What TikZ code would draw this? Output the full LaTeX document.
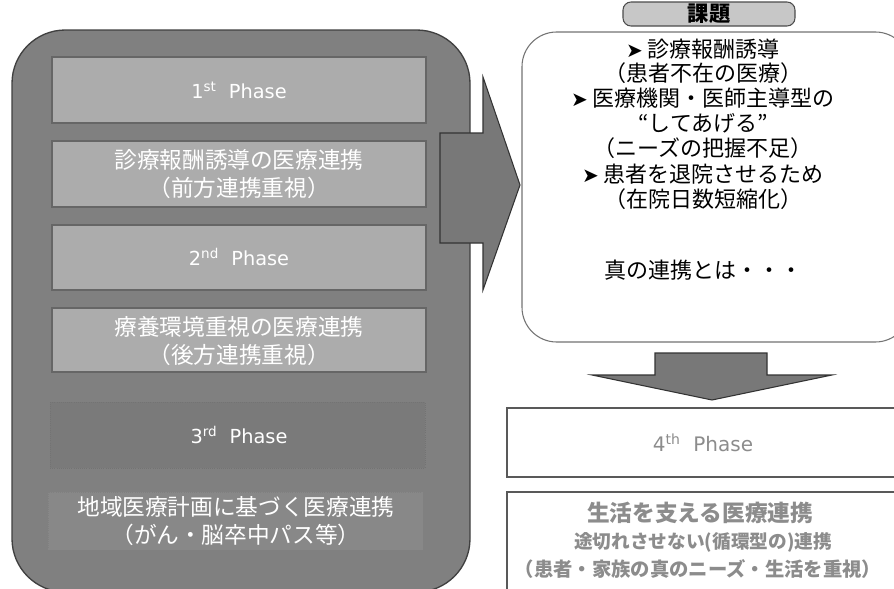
\documentclass[tikz,border=0pt]{standalone}
\usepackage{fontspec}
\setmainfont{Noto Sans CJK JP}
\newfontfamily\latinfont{DejaVu Sans}
\definecolor{outerg}{RGB}{128,128,128}
\definecolor{lightg}{RGB}{172,172,172}
\definecolor{darkg}{RGB}{122,122,122}
\definecolor{midg}{RGB}{136,136,136}
\definecolor{arrowg}{RGB}{120,120,120}
\definecolor{txtg}{RGB}{140,140,140}
\tikzset{
  outerbox/.style={draw=black!75, line width=1pt, fill=outerg, rounded corners=40pt},
  lightbox/.style={draw=black!60, line width=0.8pt, fill=lightg},
  darkbox/.style={draw=black!55, line width=0.6pt, densely dotted, fill=darkg},
  midbox/.style={draw=black!50, line width=0.6pt, densely dotted, fill=midg},
  wtext/.style={text=white, align=center, font=\fontsize{17}{20.5}\selectfont, inner sep=0pt},
  phasetext/.style={text=white, font=\latinfont\fontsize{14.5}{17}\selectfont, inner sep=0pt},
  blockarrow/.style={draw=black!80, line width=0.8pt, fill=arrowg},
  issuebox/.style={draw=black!55, line width=0.8pt, fill=white, rounded corners=26pt},
  tabbox/.style={draw=black!70, line width=0.8pt, fill=black!22, rounded corners=6pt},
  btext/.style={text=black, inner sep=0pt, font=\fontsize{16.5}{19}\selectfont},
  plainbox/.style={draw=black!65, line width=0.9pt, fill=white},
  gtext/.style={text=txtg, inner sep=0pt, font=\bfseries\fontsize{16}{19}\selectfont},
}
\begin{document}
\begin{tikzpicture}[x=0.75pt,y=-0.75pt]
\useasboundingbox (0,0) rectangle (894,589);
\clip (0,0) rectangle (894,589);

% left panel
\draw[outerbox] (12,30) rectangle (470,592);
\draw[lightbox] (52,57) rectangle (426,123);
\node[phasetext] (p1) at (239,90) {1\textsuperscript{st}\ \ Phase};
\draw[lightbox] (52,141) rectangle (426,207);
\node[wtext] (t1) at (239,174) {診療報酬誘導の医療連携\\（前方連携重視）};
\draw[lightbox] (52,225) rectangle (426,290);
\node[phasetext] (p2) at (239,257) {2\textsuperscript{nd}\ \ Phase};
\draw[lightbox] (52,308) rectangle (426,372);
\node[wtext] (t2) at (239,341) {療養環境重視の医療連携\\（後方連携重視）};
\draw[darkbox] (50,402) rectangle (425,468);
\node[phasetext] (p3) at (239,435) {3\textsuperscript{rd}\ \ Phase};
\draw[midbox] (48,492) rectangle (423,550);
\node[wtext] (t3) at (236,521) {地域医療計画に基づく医療連携\\（がん・脳卒中パス等）};

% right arrow
\draw[blockarrow] (440,133) -- (483,133) -- (483,77) -- (520,185) -- (483,290) -- (483,243) -- (440,243) -- cycle;

% issue box
\draw[issuebox] (522,32) rectangle (910,342);
\draw[tabbox] (623,2) rectangle (795,26);
\node[inner sep=0pt, font=\bfseries\fontsize{16}{18}\selectfont] (tab) at (709,14) {課題};
\node[btext] (i1) at (703,49) {{\latinfont\fontsize{15}{18}\selectfont ➤} 診療報酬誘導};
\node[btext] (i2) at (703,73) {（患者不在の医療）};
\node[btext] (i3) at (703,98) {{\latinfont\fontsize{15}{18}\selectfont ➤} 医療機関・医師主導型の};
\node[btext] (i4) at (703,123) {“してあげる”};
\node[btext] (i5) at (703,148) {（ニーズの把握不足）};
\node[btext] (i6) at (703,174) {{\latinfont\fontsize{15}{18}\selectfont ➤} 患者を退院させるため};
\node[btext] (i7) at (703,199) {（在院日数短縮化）};
\node[btext] (i8) at (703,270) {真の連携とは・・・};

% down arrow
\draw[blockarrow] (655,353) -- (767,353) -- (767,375) -- (832,375) -- (712,400) -- (592,375) -- (655,375) -- cycle;

% 4th phase
\draw[plainbox] (507,408) rectangle (910,477);
\node[text=txtg, inner sep=0pt, font=\latinfont\fontsize{15}{18}\selectfont] (p4) at (703,443) {4\textsuperscript{th}\ \ Phase};

% bottom box
\draw[plainbox] (507,492) rectangle (910,600);
\node[gtext, font=\bfseries\fontsize{17}{19}\selectfont] (b1) at (700,513) {生活を支える医療連携};
\node[gtext, font=\bfseries\fontsize{14}{16}\selectfont] (b2) at (703,542) {途切れさせない(循環型の)連携};
\node[gtext, font=\bfseries\fontsize{14.5}{16}\selectfont] (b3) at (698,569) {（患者・家族の真のニーズ・生活を重視）};
\end{tikzpicture}
\end{document}
